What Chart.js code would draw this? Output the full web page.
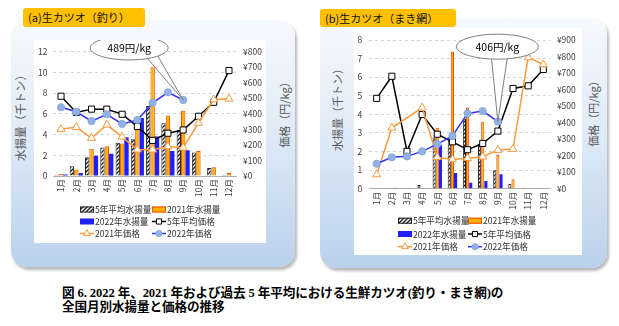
<!DOCTYPE html>
<html>
<head>
<meta charset="utf-8">
<script src="https://cdn.jsdelivr.net/npm/chart.js@4/dist/chart.umd.min.js"></script>
<style>
  html, body { margin: 0; padding: 0; background: #fff; }
  body { width: 619px; height: 326px; position: relative; overflow: hidden; font-family: "Noto Sans CJK JP", sans-serif; }
  .panel { position: absolute; border-radius: 16px;
    background: linear-gradient(180deg, #f6f9fd 0%, #e0ebf7 45%, #bad1eb 100%);
    box-shadow: 2px 3px 3px rgba(0,0,0,0.28); }
  .tab { position: absolute; background: #ffc000; border-radius: 3px; font-size: 11px; color: #111;
    padding-left: 5px; box-sizing: border-box; white-space: nowrap; }
  .plot { position: absolute; background: #fff; }
  .plot canvas { display: block; }
  .ytitle { position: absolute; white-space: nowrap; color: #595959; transform: translate(-50%, -50%) rotate(-90deg); }
  .caption { position: absolute; left: 62px; top: 287px; font-family: "Liberation Serif", "Noto Sans CJK JP", serif;
    font-weight: bold; font-size: 12.6px; line-height: 13.5px; color: #000; letter-spacing: -0.1px; white-space: nowrap; }
</style>
</head>
<body>

<div class="panel" style="left:11px;top:20px;width:284px;height:247px;"></div>
<div class="panel" style="left:320px;top:18px;width:287px;height:250px;"></div>

<div class="plot" style="left:34px;top:40px;width:232px;height:203px;"><canvas id="chartA" width="232" height="203"></canvas></div>
<div class="plot" style="left:354px;top:28px;width:228px;height:227px;"><canvas id="chartB" width="228" height="227"></canvas></div>

<div class="tab" style="left:23px;top:8px;width:122px;height:19px;line-height:19px;">(a)生カツオ（釣り）</div>
<div class="tab" style="left:320px;top:9px;width:136px;height:18px;line-height:18px;">(b)生カツオ（まき網）</div>

<div class="ytitle" style="left:20px;top:115px;font-size:11.5px;">水揚量（千トン）</div>
<div class="ytitle" style="left:284px;top:112px;font-size:11px;">価格（円/kg）</div>
<div class="ytitle" style="left:337px;top:107px;font-size:11px;">水揚量（千トン）</div>
<div class="ytitle" style="left:593px;top:111px;font-size:11px;">価格（円/kg）</div>

<div class="caption">図 6. 2022 年、2021 年および過去 5 年平均における生鮮カツオ(釣り・まき網)の<br>全国月別水揚量と価格の推移</div>

<script>
const months = ['1月','2月','3月','4月','5月','6月','7月','8月','9月','10月','11月','12月'];
const seriesNames = ['5年平均水揚量','2021年水揚量','2022年水揚量','5年平均価格','2021年価格','2022年価格'];

// (a) 釣り: monthly landings (thousand t)
const catchAvgA  = [0.12, 0.93, 1.80, 2.76, 3.20, 3.55, 6.76, 5.10, 4.43, 2.26, 0.78, 0.12];
const catch2021A = [0.19, 0.62, 2.63, 2.88, 3.13, 4.80, 10.48, 5.83, 6.30, 2.40, 0.84, 0.28];
const catch2022A = [0.15, 0.30, 1.95, 2.14, 3.75, 5.60, 3.80, 2.42, 2.48, null, null, null];
// (a) 釣り: prices (yen/kg)
const priceAvgA  = [513, 409, 430, 430, 397, 318, 229, 275, 296, 384, 474, 678];
const price2021A = [302, 314, 244, 329, 252, 169, 169, 190, 182, 341, 492, 496];
const price2022A = [442, 413, 353, 397, 335, 360, 471, 538, 489, null, null, null];

// (b) まき網: monthly landings (thousand t)
const catchAvgB  = [0.01, 0.01, 0.01, 0.20, 2.75, 2.60, 3.77, 2.40, 0.99, 0.26, 0.05, 0.01];
const catch2021B = [0.03, 0.01, 0.01, 0.01, 3.28, 7.37, 4.37, 3.60, 1.82, 0.51, 0.02, 0.03];
const catch2022B = [0.02, 0.01, 0.01, 0.02, 2.35, 0.85, 0.32, 0.41, 0.78, null, null, null];
// (b) まき網: prices (yen/kg)
const priceAvgB  = [547, 681, 226, 449, 330, 284, 236, 274, 349, 607, 623, 722];
const price2021B = [86, 369, null, 490, 190, 177, 184, 194, 234, 240, 795, 752];
const price2022B = [151, 190, 196, 226, 270, 320, 456, 470, 406, null, null, null];

// axis tick ranges
const catchTicksA = { max: 12, step: 2 };
const priceTicksA = { max: 800, step: 100 };
const catchTicksB = { max: 8, step: 1 };
const priceTicksB = { max: 900, step: 100 };

Chart.defaults.font.family = '"Noto Sans CJK JP", sans-serif';
Chart.defaults.animation = false;

function hatchPattern() {
  const c = document.createElement('canvas');
  c.width = 4; c.height = 4;
  const g = c.getContext('2d');
  g.fillStyle = '#ffffff';
  g.fillRect(0, 0, 4, 4);
  g.strokeStyle = '#1a1a1a';
  g.lineWidth = 1.3;
  g.beginPath();
  g.moveTo(-1, 5); g.lineTo(5, -1);
  g.moveTo(-1, 1); g.lineTo(1, -1);
  g.moveTo(3, 5); g.lineTo(5, 3);
  g.stroke();
  return g.createPattern(c, 'repeat');
}

function buildDatasets(cAvg, c21, c22, pAvg, p21, p22, spanGaps) {
  const barBase = { type: 'bar', yAxisID: 'y', order: 10 };
  return [
    Object.assign({}, barBase, { label: seriesNames[0], data: cAvg, backgroundColor: hatchPattern(), borderColor: '#262626', borderWidth: 1 }),
    Object.assign({}, barBase, { label: seriesNames[1], data: c21, backgroundColor: '#ffb000', borderColor: '#f04e00', borderWidth: 1 }),
    Object.assign({}, barBase, { label: seriesNames[2], data: c22, backgroundColor: '#1f1fff', borderColor: '#1f1fff', borderWidth: 0 }),
    { type: 'line', label: seriesNames[3], data: pAvg, yAxisID: 'y2', order: 3,
      borderColor: '#000000', borderWidth: 1.5, pointStyle: 'rect', pointRadius: 4.3,
      pointBackgroundColor: '#ffffff', pointBorderColor: '#000000', pointBorderWidth: 1, spanGaps: spanGaps },
    { type: 'line', label: seriesNames[4], data: p21, yAxisID: 'y2', order: 2,
      borderColor: '#fb9a3c', borderWidth: 1.5, pointStyle: 'triangle', pointRadius: 4.6,
      pointBackgroundColor: '#ffffff', pointBorderColor: '#fb9a3c', pointBorderWidth: 1, spanGaps: spanGaps },
    { type: 'line', label: seriesNames[5], data: p22, yAxisID: 'y2', order: 1,
      borderColor: '#3232ff', borderWidth: 1.5, pointStyle: 'circle', pointRadius: 3.6,
      pointBackgroundColor: '#92b2e4', pointBorderColor: '#86a8de', pointBorderWidth: 1, spanGaps: spanGaps }
  ];
}

// two-column legend drawn under the plot
function gridLegend(cols, rows) {
  return {
    id: 'gridLegend',
    afterDraw(chart) {
      const ctx = chart.ctx;
      ctx.save();
      ctx.font = '8.6px "Noto Sans CJK JP", sans-serif';
      ctx.textBaseline = 'middle';
      ctx.textAlign = 'left';
      chart.data.datasets.forEach((ds, i) => {
        const x = cols[i % 2], y = rows[Math.floor(i / 2)];
        if (ds.type === 'line') {
          ctx.strokeStyle = ds.borderColor;
          ctx.lineWidth = ds.borderWidth;
          ctx.beginPath(); ctx.moveTo(x, y); ctx.lineTo(x + 14, y); ctx.stroke();
          ctx.fillStyle = ds.pointBackgroundColor;
          ctx.strokeStyle = ds.pointBorderColor;
          ctx.lineWidth = ds.pointBorderWidth;
          Chart.helpers.drawPoint(ctx, { pointStyle: ds.pointStyle, radius: ds.pointRadius * 0.85, borderWidth: 1, rotation: 0 }, x + 7, y);
        } else {
          ctx.fillStyle = ds.backgroundColor;
          ctx.fillRect(x, y - 3, 14, 6);
          if (ds.borderWidth) {
            ctx.strokeStyle = ds.borderColor; ctx.lineWidth = 1;
            ctx.strokeRect(x + 0.5, y - 2.5, 13, 5);
          }
        }
        ctx.fillStyle = '#333333';
        ctx.fillText(ds.label, x + 15, y + 0.5);
      });
      ctx.restore();
    }
  };
}

// speech-bubble note pointing at the latest 2022 price
function priceCallout(datasetIndex, pointIndex, dx, dy, rx, ry, base1, base2) {
  return {
    id: 'priceCallout',
    afterDatasetsDraw(chart) {
      const ds = chart.data.datasets[datasetIndex];
      const pt = chart.getDatasetMeta(datasetIndex).data[pointIndex];
      const tx = pt.x, ty = pt.y;
      const cx = tx + dx, cy = ty + dy;
      const ctx = chart.ctx;
      ctx.save();
      ctx.fillStyle = '#ffffff';
      ctx.strokeStyle = '#7f7f7f';
      ctx.lineWidth = 1;
      ctx.beginPath();
      ctx.moveTo(cx + base1[0], cy + base1[1]);
      ctx.lineTo(tx, ty);
      ctx.lineTo(cx + base2[0], cy + base2[1]);
      ctx.closePath();
      ctx.fill(); ctx.stroke();
      ctx.beginPath();
      ctx.ellipse(cx, cy, rx, ry, 0, 0, Math.PI * 2);
      ctx.fill(); ctx.stroke();
      ctx.fillStyle = '#000000';
      ctx.font = '10.5px "Noto Sans CJK JP", sans-serif';
      ctx.textAlign = 'center';
      ctx.textBaseline = 'middle';
      ctx.fillText(ds.data[pointIndex] + '円/kg', cx, cy + 0.5);
      ctx.restore();
    }
  };
}

function buildChart(id, datasets, cfg) {
  const tickFont = { size: 8.5 };
  return new Chart(document.getElementById(id), {
    type: 'bar',
    data: { labels: months, datasets: datasets },
    options: {
      responsive: false,
      maintainAspectRatio: false,
      animation: false,
      layout: { padding: { top: cfg.padTop, left: 0, right: 0, bottom: 0 } },
      datasets: { bar: { categoryPercentage: cfg.catPct, barPercentage: 1.0 } },
      plugins: { legend: { display: false }, tooltip: { enabled: false } },
      scales: {
        x: {
          offset: true,
          grid: { display: false, drawTicks: false },
          border: { display: true, color: '#b0b0b0', width: 1 },
          ticks: { autoSkip: false, minRotation: 90, maxRotation: 90, padding: 3, color: '#404040', font: tickFont },
          afterFit(s) { s.height = cfg.xHeight; }
        },
        y: {
          position: 'left', min: 0, max: cfg.catch.max,
          ticks: { stepSize: cfg.catch.step, padding: cfg.padL, color: '#404040', font: tickFont },
          grid: { color: '#d4d4d4', drawTicks: false, lineWidth: 1 },
          border: { display: false, dash: [3, 3] },
          afterFit(s) { s.width = cfg.yWidth; }
        },
        y2: {
          position: 'right', min: 0, max: cfg.price.max,
          ticks: { stepSize: cfg.price.step, padding: cfg.padR, color: '#404040', font: tickFont,
                   callback: (v) => '¥' + v },
          grid: { display: false, drawTicks: false },
          border: { display: false },
          afterFit(s) { s.width = cfg.y2Width; }
        }
      }
    },
    plugins: [gridLegend(cfg.legendCols, cfg.legendRows),
              priceCallout(5, 8, cfg.call.dx, cfg.call.dy, cfg.call.rx, cfg.call.ry, cfg.call.b1, cfg.call.b2)]
  });
}

buildChart('chartA',
  buildDatasets(catchAvgA, catch2021A, catch2022A, priceAvgA, price2021A, price2022A, true),
  { padTop: 7, xHeight: 67, yWidth: 19.4, y2Width: 29.4, padL: 6, padR: 6.5, catPct: 0.86,
    catch: catchTicksA, price: priceTicksA,
    legendCols: [46, 118], legendRows: [169.5, 181.5, 193.5],
    call: { dx: -54, dy: -52, rx: 39, ry: 12, b1: [17, 9], b2: [28, 7] } });

buildChart('chartB',
  buildDatasets(catchAvgB, catch2021B, catch2022B, priceAvgB, price2021B, price2022B, true),
  { padTop: 9.3, xHeight: 66.3, yWidth: 15.1, y2Width: 31.1, padL: 7, padR: 6, catPct: 0.62,
    catch: catchTicksB, price: priceTicksB,
    legendCols: [44, 114], legendRows: [192.7, 206, 218.7],
    call: { dx: -0.5, dy: -75, rx: 41, ry: 12.5, b1: [-6, 10.5], b2: [10, 10.5] } });
</script>
</body>
</html>
